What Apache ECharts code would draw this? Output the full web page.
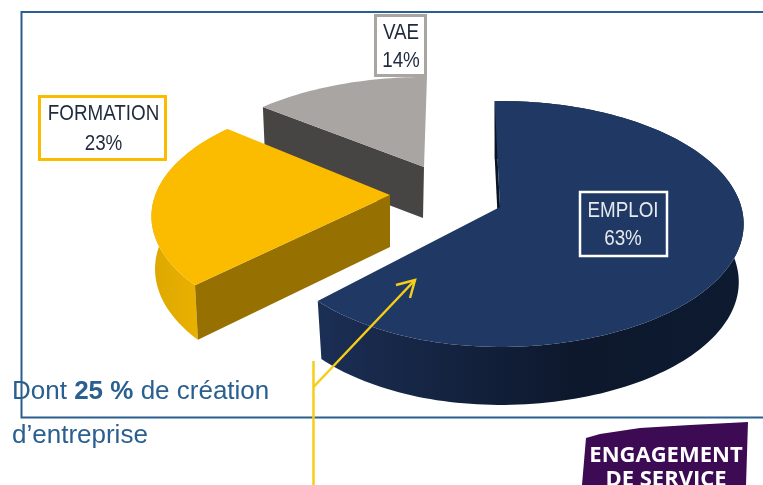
<!DOCTYPE html>
<html>
<head>
<meta charset="utf-8">
<style>
  html, body { margin: 0; padding: 0; background: #fff; overflow: hidden; }
  #chart { width: 763px; height: 485px; }
</style>
<script src="https://cdn.jsdelivr.net/npm/echarts@6/dist/echarts.min.js"></script>
</head>
<body>
<div id="chart"></div>
<script>
const categories = ['EMPLOI', 'FORMATION', 'VAE'];
const shares = [63, 23, 14];

// every slice is exploded and seen in perspective, so each one has its own placement
const slices = [
  {
    apex: [500, 207], sx: 0.985, sxLeft: 0.945, sy: 1, shear: 0, turn: -1.5, p: 0.138,
    depth: 58, sink: 0, shrinkX: 0.98, shrinkY: 1,
    top: '#1f3864', face: '#0a1426',
    wall: [[0, '#1b2e54'], [0.6, '#0d182c'], [1, '#0d1a30']],
    labelPos: [623, 225], lineHeight: 28, text: '#e6e9ee'
  },
  {
    apex: [390, 195], sx: 0.958, sxLeft: 0.958, sy: 0.958, shear: 0, turn: 0, p: 0.179,
    depth: 52, sink: 0, shrinkX: 0.985, shrinkY: 1.03,
    top: '#fbbc00', face: '#967000',
    wall: [[0, '#dda800'], [1, '#f2b600']],
    labelPos: [103.5, 129], lineHeight: 30, text: '#1f2a3c'
  },
  {
    apex: [424, 167], sx: 0.94, sxLeft: 0.94, sy: 0.85, shear: -0.033, turn: 0, p: 0.138,
    depth: 51, sink: -1, shrinkX: 0.98, shrinkY: 1,
    top: '#a9a5a3', face: '#474444',
    wall: null,
    labelPos: [401, 46.5], lineHeight: 28, text: '#1f2a3c'
  }
];

const RADIUS_X = 245;
const RADIUS_Y = 120.6;
const total = shares.reduce((a, b) => a + b, 0);

// angle in degrees, clockwise from the top of the disc
function project(s, deg, lower) {
  const t = (deg + s.turn) * Math.PI / 180;
  const u = Math.sin(t);
  const v = -Math.cos(t);
  const w = 1 - s.p * v;
  const y = RADIUS_Y * s.sy * v / w;
  const x = RADIUS_X * (u < 0 ? s.sxLeft : s.sx) * u / w + s.shear * y;
  if (!lower) return [s.apex[0] + x, s.apex[1] + y];
  return [s.apex[0] + s.sink + x * s.shrinkX, s.apex[1] + s.depth + y * s.shrinkY];
}

function arc(s, from, to, lower) {
  const pts = [];
  const n = Math.ceil(Math.abs(to - from) / 1.5);
  for (let i = 0; i <= n; i++) pts.push(project(s, from + (to - from) * i / n, lower));
  return pts;
}

function renderSlice(idx, value, start) {
  const s = slices[idx];
  const end = start + value / total * 360;
  const lowerApex = [s.apex[0] + s.sink, s.apex[1] + s.depth];
  const children = [];
  if (s.wall) {
    children.push({
      type: 'polygon',
      shape: { points: arc(s, start, end, false).concat(arc(s, start, end, true).reverse()) },
      style: {
        fill: new echarts.graphic.LinearGradient(0, 0, 1, 0, s.wall.map(c => ({ offset: c[0], color: c[1] })))
      }
    });
  }
  children.push(
    {
      // cut face on the side of the first angle
      type: 'polygon',
      shape: { points: [project(s, start, false), s.apex, lowerApex, project(s, start, true)] },
      style: { fill: s.face }
    },
    {
      type: 'polygon',
      shape: { points: [s.apex].concat(arc(s, start, end, false)) },
      style: { fill: s.top }
    },
    {
      type: 'text',
      x: s.labelPos[0],
      y: s.labelPos[1],
      scaleX: 0.855,
      style: {
        text: categories[idx] + '\n' + value + '%',
        fontFamily: '"Liberation Sans", Arial, sans-serif',
        fontSize: 22,
        lineHeight: s.lineHeight,
        fill: s.text,
        align: 'center',
        verticalAlign: 'middle'
      }
    }
  );
  return { type: 'group', children };
}

// running start angle of every slice
let running = 0;
const startAngles = shares.map(v => {
  const a = running / total * 360;
  running += v;
  return a;
});
// paint back slices first
const order = [2, 1, 0];

const chart = echarts.init(document.getElementById('chart'));

const frameColor = '#2a5f8f';
const yellow = '#f6cd17';
const bodyFont = '"Liberation Sans", Arial, sans-serif';

function labelBox(left, top, width, height, color, lineWidth) {
  return {
    type: 'rect',
    z: 20,
    shape: { x: left, y: top, width, height },
    style: { fill: null, stroke: color, lineWidth }
  };
}

function yellowLine(points) {
  return {
    type: 'polyline', z: 30,
    shape: { points },
    style: { stroke: yellow, lineWidth: 2.5, fill: null }
  };
}

chart.setOption({
  animation: false,
  backgroundColor: '#ffffff',
  graphic: [
    {
      type: 'rect', z: 0,
      shape: { x: 21.5, y: 12, width: 760, height: 405.5 },
      style: { fill: null, stroke: frameColor, lineWidth: 2 }
    },
    labelBox(39.5, 96.5, 126, 63, '#fbbc00', 3),
    labelBox(375.5, 15.5, 50, 60, '#a9a5a3', 3),
    labelBox(580, 192, 87, 64, '#ffffff', 2.5),
    yellowLine([[313.5, 361], [313.5, 485]]),
    yellowLine([[313.5, 387], [415, 280]]),
    yellowLine([[396, 285], [415, 280], [410, 298]]),
    {
      type: 'text', z: 40, x: 12, y: 392,
      style: {
        rich: {
          n: { fontSize: 26, fontFamily: bodyFont, fill: frameColor },
          b: { fontSize: 26, fontWeight: 'bold', fontFamily: bodyFont, fill: frameColor }
        },
        text: '{n|Dont }{b|25 %}{n| de création}',
        verticalAlign: 'middle'
      }
    },
    {
      type: 'text', z: 40, x: 12, y: 436,
      style: {
        text: 'd’entreprise',
        fontSize: 26,
        fontFamily: bodyFont,
        fill: frameColor,
        verticalAlign: 'middle'
      }
    },
    {
      type: 'polygon', z: 30,
      shape: { points: [[586, 438], [600, 434], [640, 428], [690, 425], [748, 422], [746, 485], [582, 485]] },
      style: { fill: '#3d0a54' }
    },
    {
      type: 'text', z: 31, x: 666, y: 456,
      style: {
        text: 'ENGAGEMENT', fontSize: 22, fontWeight: 'bold',
        fontFamily: '"Open Sans", sans-serif', fill: '#ffffff', align: 'center', verticalAlign: 'middle'
      }
    },
    {
      type: 'text', z: 31, x: 666, y: 480,
      style: {
        text: 'DE SERVICE', fontSize: 22, fontWeight: 'bold',
        fontFamily: '"Open Sans", sans-serif', fill: '#ffffff', align: 'center', verticalAlign: 'middle'
      }
    }
  ],
  series: order.map(i => ({
    type: 'custom',
    coordinateSystem: 'none',
    silent: true,
    z: 10,
    renderItem: () => renderSlice(i, shares[i], startAngles[i]),
    data: [[shares[i], startAngles[i]]]
  }))
});
</script>
</body>
</html>
